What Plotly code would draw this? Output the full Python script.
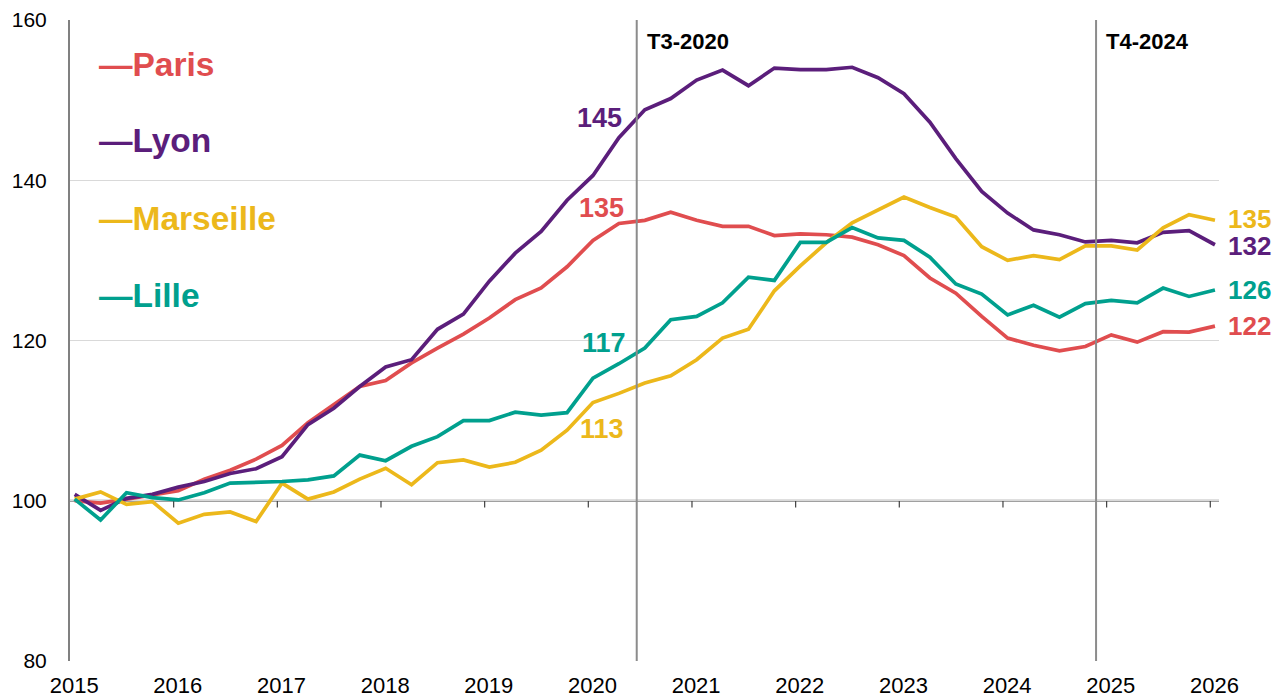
import plotly.graph_objects as go

# ---------------- data (quarterly index, 2015 = 100) ----------------
cities = ["Paris", "Lyon", "Marseille", "Lille"]
paris = [100.0, 99.7, 100.2, 100.7, 101.25, 102.7, 103.8, 105.2, 106.9, 109.75,
         112.0, 114.25, 115.0, 117.2, 119.05, 120.8, 122.8, 125.1, 126.55, 129.2,
         132.5, 134.6, 135.0, 136.0, 135.0, 134.25, 134.25, 133.1, 133.3, 133.2,
         132.9, 131.95, 130.6, 127.8, 125.9, 123.0, 120.3, 119.4, 118.7, 119.25,
         120.7, 119.8, 121.1, 121.05, 121.8]
lyon = [100.8, 98.8, 100.3, 100.8, 101.7, 102.4, 103.4, 104.0, 105.5, 109.5,
        111.55, 114.25, 116.7, 117.6, 121.4, 123.3, 127.4, 130.9, 133.6, 137.5,
        140.6, 145.3, 148.8, 150.2, 152.5, 153.75, 151.8, 154.0, 153.8, 153.8,
        154.1, 152.8, 150.8, 147.25, 142.7, 138.6, 135.9, 133.8, 133.2, 132.3,
        132.5, 132.2, 133.5, 133.7, 131.95]
marseille = [100.2, 101.1, 99.55, 99.9, 97.2, 98.3, 98.6, 97.4, 102.2, 100.2,
             101.1, 102.7, 104.05, 102.0, 104.75, 105.1, 104.2, 104.8, 106.3, 108.8,
             112.25, 113.4, 114.7, 115.6, 117.6, 120.3, 121.4, 126.2, 129.3, 132.2,
             134.7, 136.3, 137.9, 136.6, 135.4, 131.7, 130.0, 130.6, 130.1, 131.8,
             131.8, 131.3, 134.05, 135.7, 135.0]
lille = [100.2, 97.6, 101.0, 100.4, 100.1, 101.0, 102.2, 102.25, 102.4, 102.6,
         103.1, 105.7, 105.0, 106.8, 108.0, 110.0, 110.0, 111.05, 110.7, 111.0,
         115.3, 117.1, 119.05, 122.6, 123.0, 124.7, 127.9, 127.5, 132.25, 132.25,
         134.1, 132.8, 132.5, 130.4, 127.05, 125.8, 123.2, 124.4, 122.9, 124.6,
         125.0, 124.7, 126.55, 125.5, 126.3]
series = [paris, lyon, marseille, lille]

years = list(range(2015, 2027))
year_labels = [str(y) for y in years]
y_ticks = [80, 100, 120, 140, 160]

markers = ["T3-2020", "T4-2024"]
marker_x = [2020.467, 2024.898]

# quarter positions along a year axis
x_start, x_step = 2015.045, 0.25
xq = [x_start + x_step * i for i in range(len(paris))]

# ---------------- styles ----------------
colors = ["#E04D4F", "#5B1E7B", "#ECB81B", "#00A08E"]
FONT = "Liberation Sans, Arial, sans-serif"
X_END = 2026.084

fig = go.Figure()
for name, vals, col in zip(cities, series, colors):
    fig.add_trace(go.Scatter(x=xq, y=vals, mode="lines", name=name,
                             line=dict(color=col, width=3.7),
                             showlegend=False, hoverinfo="x+y+name"))

# baseline (y=100) axis line with tick marks
fig.add_shape(type="line", xref="x", yref="y", x0=2015, x1=X_END, y0=100, y1=100,
              line=dict(color="#808080", width=2), layer="below")
for yr in years[1:]:
    fig.add_shape(type="line", xref="x", yref="y", x0=yr, x1=yr, y0=100, y1=100 - 0.85,
                  line=dict(color="#404040", width=1.2), layer="below")

# vertical marker lines
for lab, mx in zip(markers, marker_x):
    fig.add_shape(type="line", xref="x", yref="paper", x0=mx, x1=mx, y0=0, y1=1,
                  line=dict(color="#8C8C8C", width=2), layer="above")
    fig.add_annotation(x=mx, xref="x", y=0.967, yref="paper", text="<b>%s</b>" % lab,
                       showarrow=False, xanchor="left", yanchor="middle", xshift=8,
                       font=dict(family=FONT, size=22, color="#000000"))

# legend as coloured text
leg_y = [0.93, 0.8127, 0.691, 0.5707]
for name, col, ly in zip(cities, colors, leg_y):
    fig.add_annotation(x=0.0235, xref="paper", y=ly, yref="paper",
                       text="<b>\u2014%s</b>" % name, showarrow=False,
                       xanchor="left", yanchor="middle",
                       font=dict(family=FONT, size=33.5, color=col))

# value labels at T2-2020 (index 21)
k = 21
label_shift = [(7, 16), (5, 20), (7, -36), (9, 21)]
for vals, col, (dx, dy) in zip(series, colors, label_shift):
    fig.add_annotation(x=xq[k], y=vals[k], text="<b>%d</b>" % round(vals[k]),
                       showarrow=False, xanchor="right", yanchor="middle",
                       xshift=dx, yshift=dy,
                       font=dict(family=FONT, size=27, color=col))

# end labels
end_dy = [0, -1, 1, 0]
for vals, col, dy in zip(series, colors, end_dy):
    fig.add_annotation(x=xq[-1], y=vals[-1], text="<b>%d</b>" % round(vals[-1]),
                       showarrow=False, xanchor="left", yanchor="middle",
                       xshift=11, yshift=dy, font=dict(family=FONT, size=26, color=col))

fig.update_layout(
    width=1276, height=697,
    margin=dict(l=70, r=57, t=20, b=36),
    plot_bgcolor="white", paper_bgcolor="white",
    font=dict(family=FONT, color="#000000"),
    xaxis=dict(range=[2015, X_END], tickmode="array",
               tickvals=[y + 0.04 for y in years], ticktext=year_labels,
               showgrid=False, zeroline=False, showline=False, ticks="",
               ticklabelstandoff=9,
               tickfont=dict(family=FONT, size=22, color="#000000"),
               automargin=False, fixedrange=True),
    yaxis=dict(range=[80, 160], tickmode="array", tickvals=y_ticks,
               showgrid=True, gridcolor="#D9D9D9", gridwidth=1,
               zeroline=False, showline=True, linecolor="#808080", linewidth=2,
               ticks="", ticklabelstandoff=17,
               tickfont=dict(family=FONT, size=21, color="#000000"),
               automargin=False, fixedrange=True),
)

fig.write_html("out.html", config={"displayModeBar": False},
               post_script="document.body.style.margin='0';document.body.style.overflow='hidden';")
